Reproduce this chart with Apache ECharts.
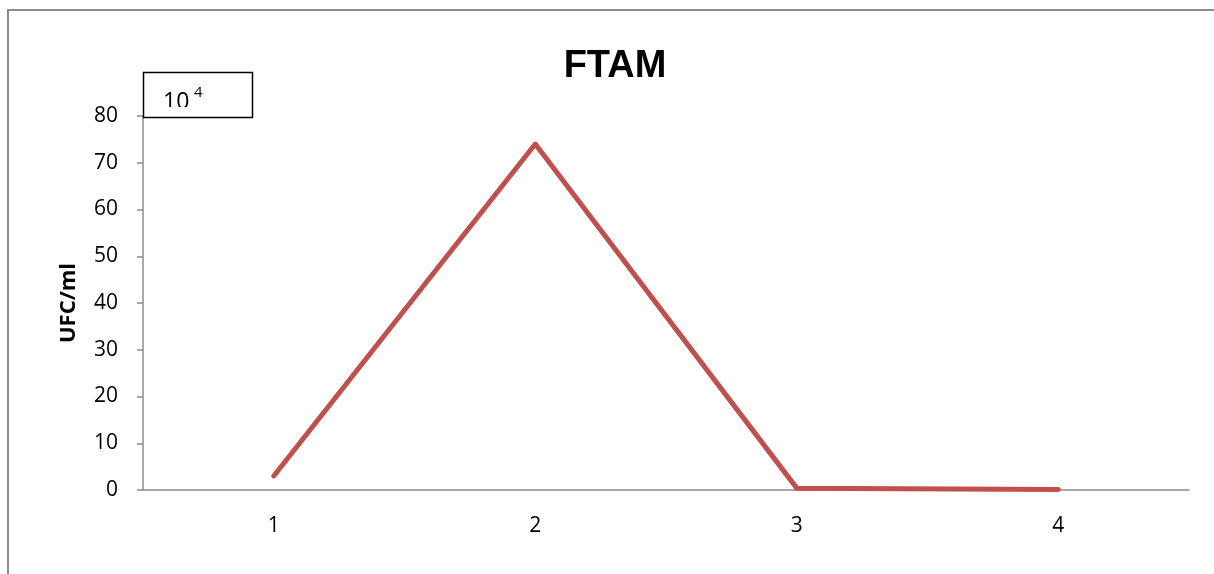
<!DOCTYPE html>
<html>
<head>
<meta charset="utf-8">
<style>
  html, body { margin: 0; padding: 0; background: #fff; }
  #chart { width: 1214px; height: 574px; }
</style>
<script src="https://cdn.jsdelivr.net/npm/echarts@6/dist/echarts.min.js"></script>
</head>
<body>
<div id="chart"></div>
<script>
// Sample points along the x axis
const categories = ['1', '2', '3', '4'];
// Colony counts (x10^4 UFC/ml)
const ftamValues = [3, 74, 0.4, 0.1];
// Y axis range
const yMin = 0;
const yMax = 80;
const yStep = 10;

const TITLE_FONT = '"Liberation Sans", Arial, sans-serif';
const FONT = '"Open Sans", "Liberation Sans", sans-serif';
const AXIS_GRAY = '#8c8c8c';

const chart = echarts.init(document.getElementById('chart'), null, { renderer: 'canvas' });

chart.setOption({
  animation: false,
  backgroundColor: '#ffffff',
  title: {
    text: 'FTAM',
    left: 610,
    top: 43,
    textAlign: 'center',
    textStyle: { fontFamily: TITLE_FONT, fontSize: 38, fontWeight: 'bold', color: '#000' }
  },
  grid: { left: 143, right: 25, top: 116, bottom: 84, containLabel: false },
  xAxis: {
    type: 'category',
    data: categories,
    boundaryGap: true,
    axisLine: { lineStyle: { color: AXIS_GRAY, width: 1.5 } },
    axisTick: { show: false },
    axisLabel: { fontFamily: FONT, fontSize: 21, color: '#000', margin: 26 }
  },
  yAxis: {
    type: 'value',
    min: yMin,
    max: yMax,
    interval: yStep,
    name: 'UFC/ml',
    nameLocation: 'middle',
    nameGap: 63,
    nameRotate: 90,
    nameTextStyle: { fontFamily: FONT, fontSize: 22, fontWeight: 'bold', color: '#000' },
    axisLine: { show: true, lineStyle: { color: AXIS_GRAY, width: 1.5 } },
    axisTick: { show: true, inside: false, length: 6, lineStyle: { color: AXIS_GRAY, width: 1.5 } },
    axisLabel: { fontFamily: FONT, fontSize: 21, color: '#000', margin: 25 },
    splitLine: { show: false }
  },
  series: [{
    name: 'FTAM',
    type: 'line',
    data: ftamValues,
    symbol: 'none',
    lineStyle: { color: '#C0504D', width: 5, cap: 'round', join: 'round' },
    z: 3
  }],
  graphic: [
    // outer chart frame
    {
      type: 'rect',
      shape: { x: 8, y: 10, width: 1400, height: 800 },
      style: { fill: null, stroke: '#8c8c8c', lineWidth: 2 },
      silent: true,
      z: 100
    },
    // unit label box: "10" with superscript "4", cut off by the box edge
    {
      type: 'text',
      x: 163,
      y: 91,
      style: { text: '10', font: '23px "Open Sans", sans-serif', fill: '#000' },
      z: 101
    },
    {
      type: 'text',
      x: 194,
      y: 85,
      style: { text: '4', font: '15px "Open Sans", sans-serif', fill: '#000' },
      z: 101
    },
    {
      type: 'rect',
      shape: { x: 144, y: 107, width: 108, height: 10 },
      style: { fill: '#ffffff', stroke: null },
      silent: true,
      z: 102
    },
    {
      type: 'rect',
      shape: { x: 143.5, y: 72.5, width: 109, height: 45 },
      style: { fill: null, stroke: '#000', lineWidth: 1.5 },
      silent: true,
      z: 103
    }
  ]
});
</script>
</body>
</html>
